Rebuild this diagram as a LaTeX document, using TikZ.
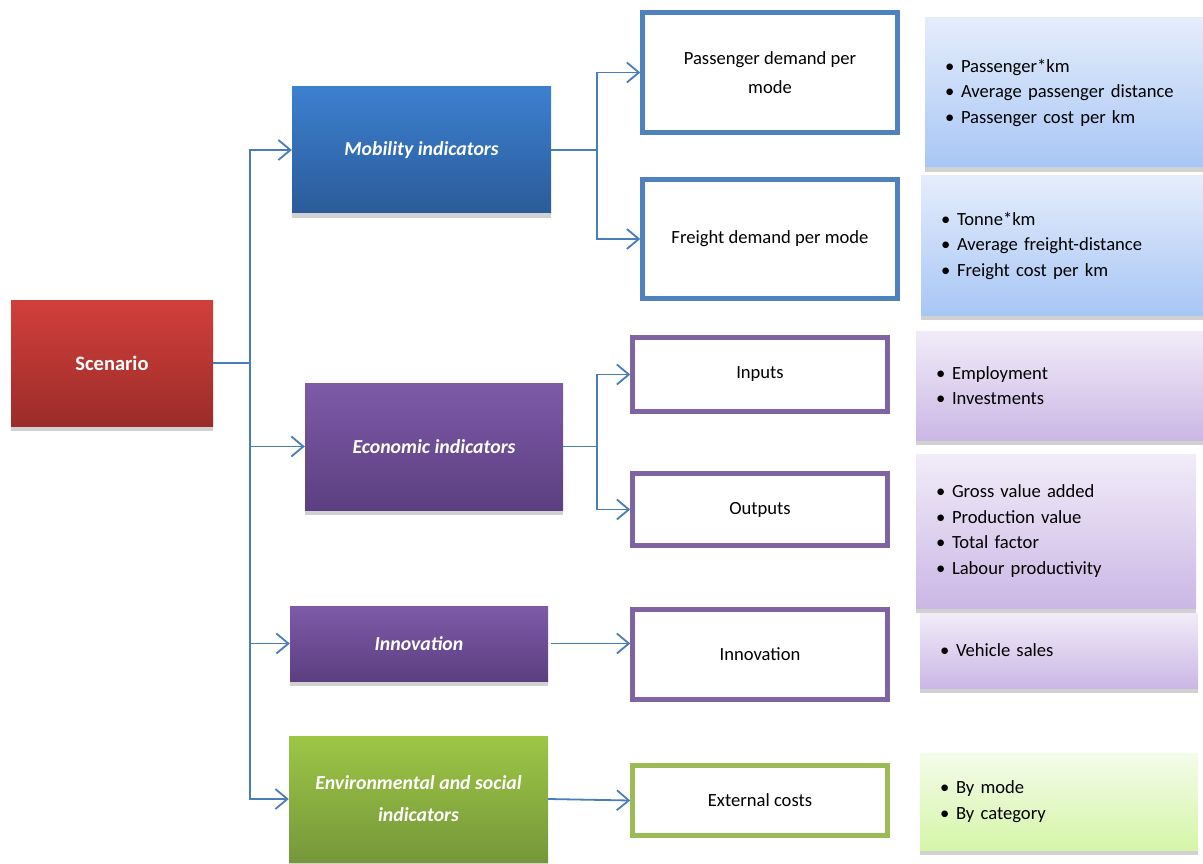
\documentclass[tikz,border=0pt]{standalone}
\usepackage{fontspec}
\setmainfont{Carlito}
\usepackage{tikz}
\usepackage{xcolor}
\usetikzlibrary{positioning,arrows.meta,shadows,calc}

\definecolor{redTop}{HTML}{D23F3A}
\definecolor{redBot}{HTML}{9B2C2A}
\definecolor{blueTop}{HTML}{3C80D0}
\definecolor{blueBot}{HTML}{2B5B99}
\definecolor{purpTop}{HTML}{7E5AA8}
\definecolor{purpBot}{HTML}{5B3F80}
\definecolor{greenTop}{HTML}{9DC645}
\definecolor{greenBot}{HTML}{76973A}
\definecolor{blueLine}{HTML}{4F81BD}
\definecolor{purpLine}{HTML}{8064A2}
\definecolor{greenLine}{HTML}{9BBB59}
\definecolor{arrowBlue}{HTML}{4A7EBB}
\definecolor{lblueTop}{HTML}{E5EDFB}
\definecolor{lblueBot}{HTML}{A8C6F5}
\definecolor{lpurpTop}{HTML}{F1ECF8}
\definecolor{lpurpBot}{HTML}{CBB7E5}
\definecolor{lgreenTop}{HTML}{F4FCEA}
\definecolor{lgreenBot}{HTML}{D5F5A8}

\newcommand{\bul}{\makebox[16pt][l]{\textbullet}}

\begin{document}
\begin{tikzpicture}[x=1pt, y=-1pt,
  head/.style={
    rectangle, draw=none, text=white, align=center, inner sep=4pt,
    font=\fontsize{19.8}{32}\selectfont\bfseries\itshape,
    drop shadow={shadow xshift=0pt, shadow yshift=-5pt, fill=black!18, opacity=1}
  },
  stage/.style={
    rectangle, draw=#1, line width=4.5pt, fill=white, align=center,
    minimum width=255pt, font=\fontsize{18.6}{29}\selectfont
  },
  list/.style={
    rectangle, draw=none, align=left, inner xsep=20pt,
    font=\fontsize{18.6}{25.5}\selectfont,
    drop shadow={shadow xshift=0pt, shadow yshift=-5pt, fill=black!18, opacity=1}
  },
  link/.style={
    line width=1.8pt, color=arrowBlue
  },
  arrow/.style={
    link, -{Straight Barb[length=12pt, width=20pt]}
  }
]
\useasboundingbox (0,0) rectangle (1203,864);

% Nodes
\node[head, top color=redTop, bottom color=redBot, font=\fontsize{20.5}{32}\selectfont\bfseries,
  minimum width=202pt, minimum height=126pt] (scenario) at (112,363) {Scenario};
\node[head, top color=blueTop, bottom color=blueBot,
  minimum width=259pt, minimum height=126pt] (mobility) at (421.5,150) {Mobility indicators};
\node[head, top color=purpTop, bottom color=purpBot,
  minimum width=258pt, minimum height=127pt] (economic) at (434,446.5) {Economic indicators};
\node[head, top color=purpTop, bottom color=purpBot,
  minimum width=258pt, minimum height=75pt] (innov) at (419,643.5) {Innovation};
\node[head, top color=greenTop, bottom color=greenBot,
  minimum width=259pt, minimum height=126pt] (envsoc) at (418.5,799) {Environmental and social\\indicators};

% Stages
\node[stage=blueLine, minimum height=120pt] (paxdemand) at (770,72.5) {Passenger demand per\\mode};
\node[stage=blueLine, minimum height=119pt] (frdemand) at (770,239) {Freight demand per mode};
\node[stage=purpLine, minimum height=74pt] (inputs) at (760,374.5) {Inputs};
\node[stage=purpLine, minimum height=72pt] (outputs) at (760,509.5) {Outputs};
\node[stage=purpLine, minimum height=90pt] (innovbox) at (760,654.5) {Innovation};
\node[stage=greenLine, minimum height=70pt] (extcost) at (760,800.5) {External costs};

% Lists
\node[list, top color=lblueTop, bottom color=lblueBot, text width=238pt, minimum height=149pt]
  (paxlist) at (1064,92.5) {\bul Passenger*km\\ \bul Average passenger distance\\ \bul Passenger cost per km};
\node[list, top color=lblueTop, bottom color=lblueBot, text width=242pt, minimum height=139pt]
  (frlist) at (1062,245.5) {\bul Tonne*km\\ \bul Average freight-distance\\ \bul Freight cost per km};
\node[list, top color=lpurpTop, bottom color=lpurpBot, text width=247pt, minimum height=109pt]
  (inlist) at (1059.5,385.5) {\bul Employment\\ \bul Investments};
\node[list, top color=lpurpTop, bottom color=lpurpBot, text width=240pt, minimum height=154pt]
  (outlist) at (1056,531) {\bul Gross value added\\ \bul Production value\\ \bul Total factor\\ \bul Labour productivity};
\node[list, top color=lpurpTop, bottom color=lpurpBot, text width=238pt, minimum height=75pt]
  (saleslist) at (1059,650.5) {\bul Vehicle sales};
\node[list, top color=lgreenTop, bottom color=lgreenBot, text width=238pt, minimum height=97pt]
  (extlist) at (1059,801.5) {\bul By mode\\ \bul By category};

% Edges
\coordinate (fork) at (250,363);
\coordinate (mfork) at (597,150);
\coordinate (efork) at (597,446.5);

\draw[link] (scenario.east) -- (fork);
\draw[arrow] (fork) |- (mobility.west);
\draw[arrow] (fork) |- (economic.west);
\draw[arrow] (fork) |- (innov.west);
\draw[arrow] (fork) |- (envsoc.west);

\draw[link] (mobility.east) -- (mfork);
\draw[arrow] (mfork) |- (paxdemand.west);
\draw[arrow] (mfork) |- (frdemand.west);

\draw[link] (economic.east) -- (efork);
\draw[arrow] (efork) |- (inputs.west);
\draw[arrow] (efork) |- (outputs.west);

\draw[arrow] ([xshift=3pt]innov.east) -- (innov.east -| innovbox.west);
\draw[arrow] (envsoc.east) -- (extcost.west);

\end{tikzpicture}
\end{document}
